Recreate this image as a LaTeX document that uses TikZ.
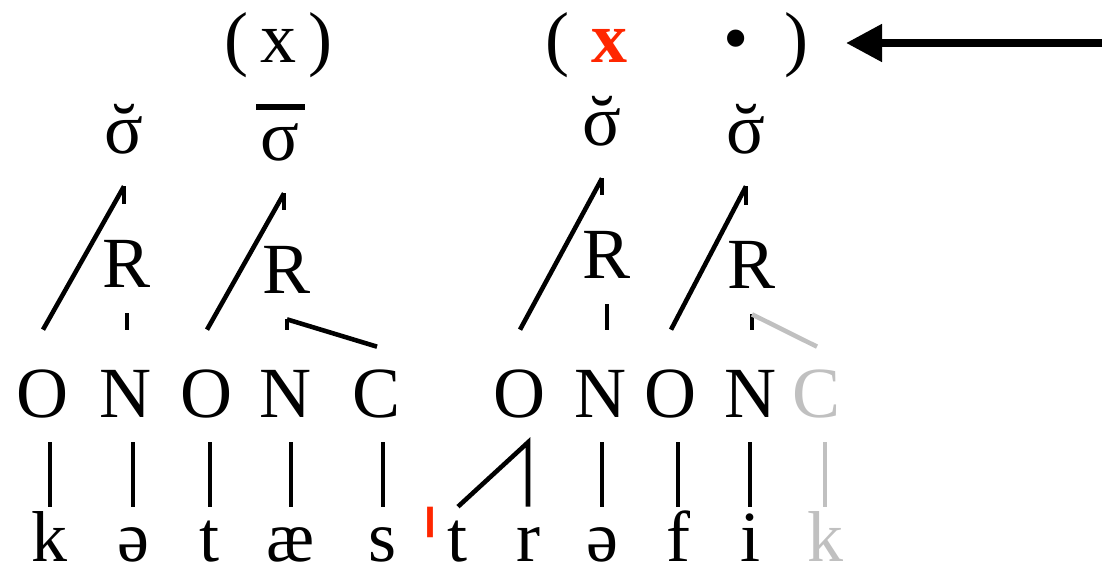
\documentclass[tikz,border=0pt]{standalone}
\usepackage{graphicx}
\usepackage{fontspec}
\setmainfont{Liberation Serif}
\usetikzlibrary{arrows.meta}
\definecolor{stressred}{RGB}{255,38,0}
\definecolor{lightgr}{RGB}{192,192,192}
\newcommand{\brevesig}{\ooalign{σ\cr\hidewidth ˘\hidewidth\cr}}
\newcommand{\longsig}{\vbox{\hrule height 0.085em width 0.67em \kern 0.18em \hbox to 0.67em{\hss σ\hss}}}

\begin{document}
\begin{tikzpicture}[
  x=0.02cm, y=-0.02cm,
  font=\fontsize{41}{48}\selectfont,
  every node/.style={inner sep=0pt, anchor=base},
  syl/.style={text depth=0.66cm},
  rime/.style={text height=1.66cm, text depth=0.52cm},
  unit/.style={text height=1.74cm, text depth=0.5cm},
  coda/.style={unit, text height=1.4cm},
  seg/.style={text height=1.08cm},
  link/.style={line width=2.6pt},
  faint/.style={lightgr},
  arr/.style={-{Triangle[length=0.72cm, width=0.72cm]}, line width=4.5pt}
]
\useasboundingbox (0,0) rectangle (1102,568);
% feet
\node (foot1) at (279,62) {(\,x\,)};
\node (lpar) at (557,62) {(};
\node[text=stressred] (head) at (610,62) {\bfseries x};
\node (beat) at (736,62) {•};
\node (rpar) at (796,62) {)};
% syllables
\node[syl] (sig1) at (124,153) {\brevesig};
\node[syl] (sig2) at (284,160) {\longsig\kern 0.1em};
\node[syl] (sig3) at (602,145) {\brevesig};
\node[syl] (sig4) at (746,153) {\brevesig};
% rimes
\node[rime] (r1) at (127,287) {R};
\node[rime] (r2) at (287,293) {R};
\node[rime] (r3) at (607,278) {R};
\node[rime] (r4) at (752,288) {R};
% onset / nucleus / coda
\node[unit] (o1) at (43,417) {O};
\node[unit] (n1) at (126,417) {N};
\node[unit] (o2) at (207,417) {O};
\node[unit] (n2) at (286,417) {N};
\node[coda] (c1) at (377,417) {C};
\node[unit] (o3) at (520,417) {O};
\node[unit] (n3) at (601,417) {N};
\node[unit] (o4) at (671,417) {O};
\node[unit] (n4) at (751,417) {N};
\node[coda, faint] (c2) at (817,417) {C};
% segments
\node[seg] (kA) at (50,561) {k};
\node[seg] (schwaA) at (133,561) {ə};
\node[seg] (tA) at (210,561) {t};
\node[seg] (ae) at (291,561) {æ};
\node[seg] (ss) at (383,561) {s};
\node[stressred, font=\fontsize{82}{90}\selectfont] (stress) at (430,642) {\scalebox{0.75}[1.35]{ˈ}};
\node[seg] (tB) at (458,561) {t};
\node[seg] (rr) at (528,561) {r};
\node[seg] (schwaB) at (602,561) {ə};
\node[seg] (ff) at (678,561) {f};
\node[seg] (ii) at (750,561) {i};
\node[seg, faint] (kB) at (825,561) {k};

\draw[link] (o1.north) -- (sig1.south);
\draw[link] (sig1.south) -- (sig1.south |- r1.north);
\draw[link] (r1.south) -- (r1.south |- n1.north);
\draw[link] (o2.north) -- (sig2.south);
\draw[link] (sig2.south) -- (sig2.south |- r2.north);
\draw[link] (r2.south) -- (r2.south |- n2.north);
\draw[link] (r2.south) -- (c1.north);
\draw[link] (o3.north) -- (sig3.south);
\draw[link] (sig3.south) -- (sig3.south |- r3.north);
\draw[link] (r3.south) -- (r3.south |- n3.north);
\draw[link] (o4.north) -- (sig4.south);
\draw[link] (sig4.south) -- (sig4.south |- r4.north);
\draw[link] (r4.south) -- (r4.south |- n4.north);
\draw[link, faint] (r4.south) -- (c2.north);

\draw[link] (kA.north) -- (kA.north |- o1.south);
\draw[link] (schwaA.north) -- (schwaA.north |- n1.south);
\draw[link] (tA.north) -- (tA.north |- o2.south);
\draw[link] (ae.north) -- (ae.north |- n2.south);
\draw[link] (ss.north) -- (ss.north |- c1.south);
\draw[link] (tB.north) -- (rr.north |- o3.south) -- (rr.north);
\draw[link] (schwaB.north) -- (schwaB.north |- n3.south);
\draw[link] (ff.north) -- (ff.north |- o4.south);
\draw[link] (ii.north) -- (ii.north |- n4.south);
\draw[link, faint] (kB.north) -- (kB.north |- c2.south);

\coordinate (tail) at (1102,43);
\coordinate (tip) at (846,43);
\draw[arr] (tail) -- (tip);
\end{tikzpicture}
\end{document}
